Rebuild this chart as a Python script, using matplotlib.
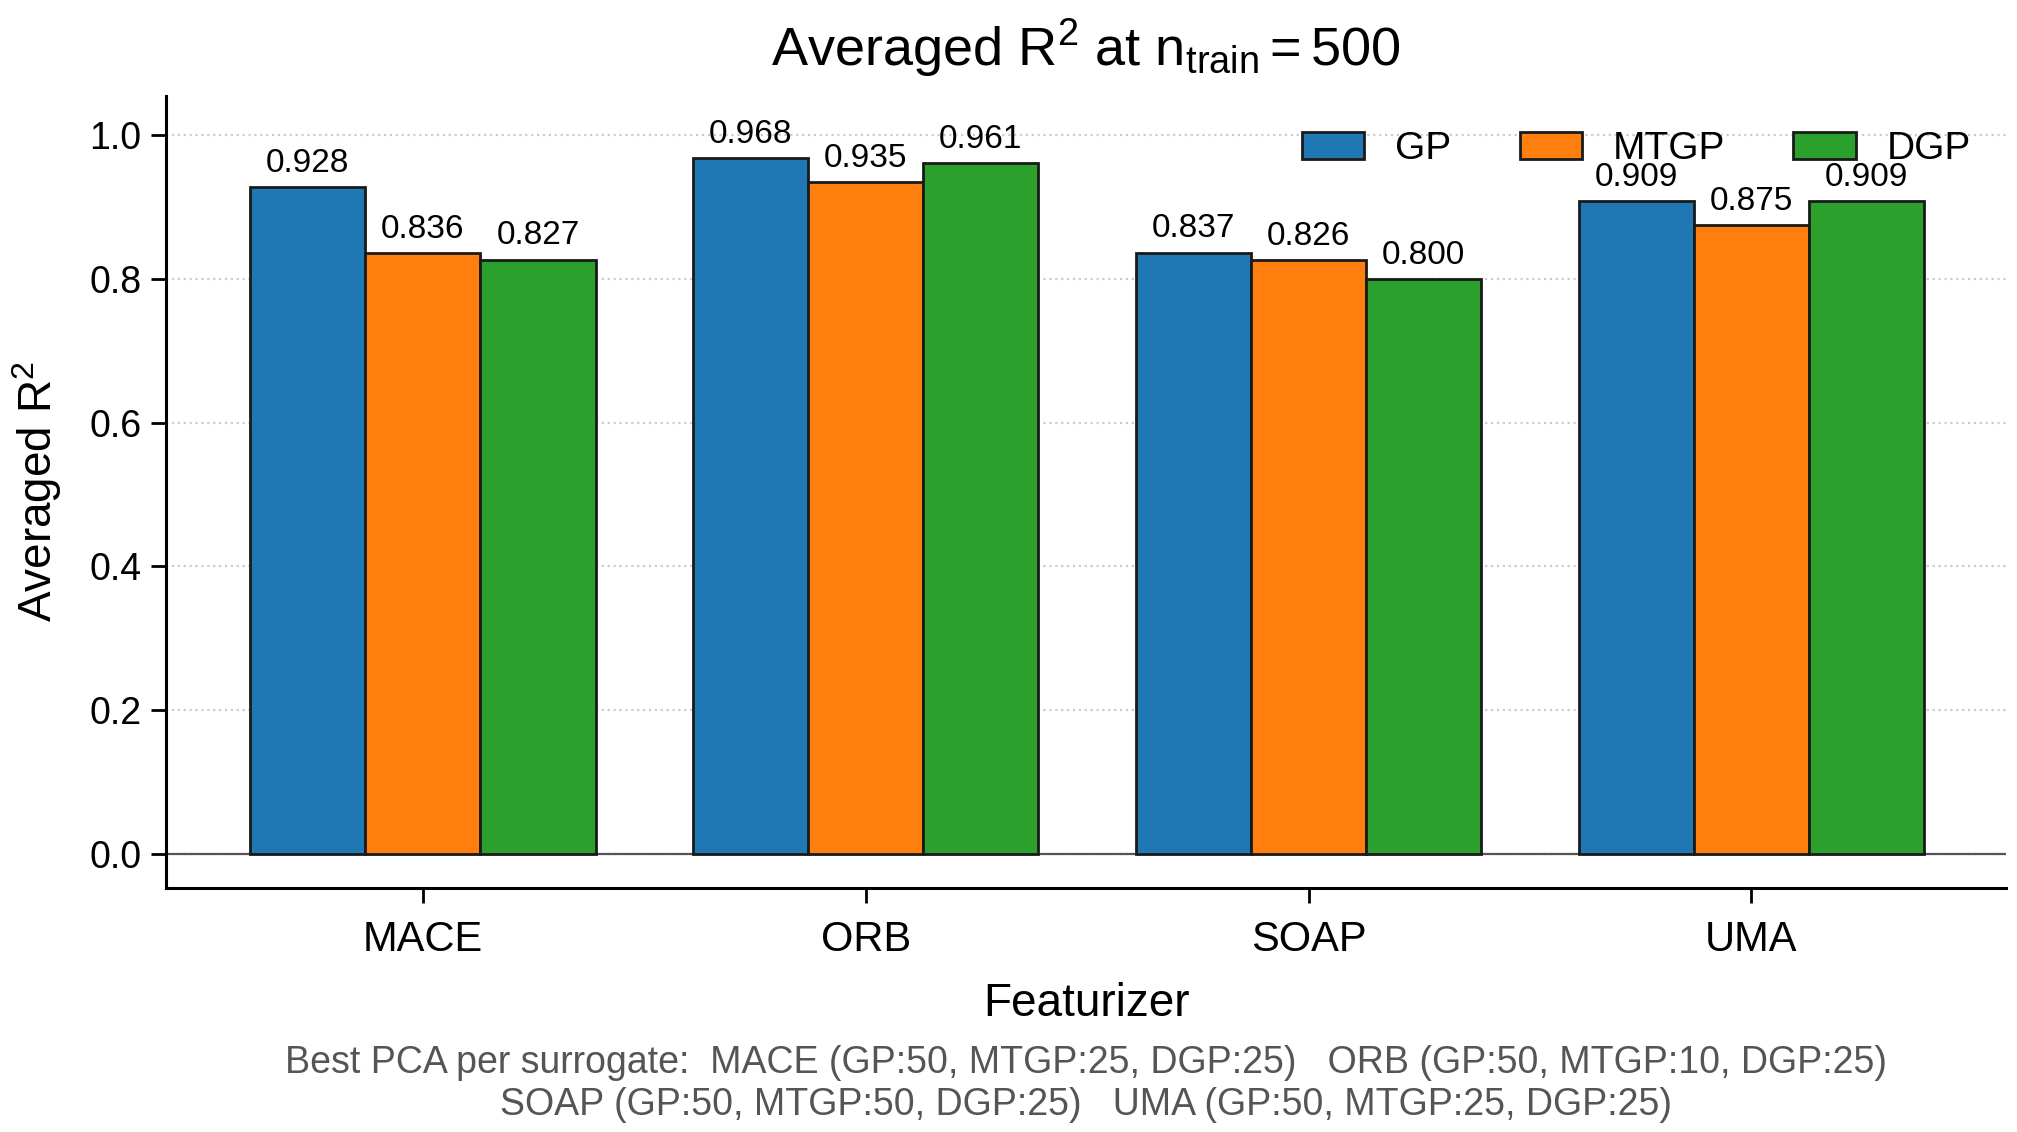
import matplotlib
matplotlib.use("Agg")
import matplotlib.pyplot as plt
import numpy as np

featurizers = ["MACE", "ORB", "SOAP", "UMA"]
surrogates = ["GP", "MTGP", "DGP"]
gp_vals = [0.928, 0.968, 0.837, 0.909]
mtgp_vals = [0.836, 0.935, 0.826, 0.875]
dgp_vals = [0.827, 0.961, 0.800, 0.909]
colors = ["#1f77b4", "#ff7f0e", "#2ca02c"]
footnote = ("Best PCA per surrogate:  MACE (GP:50, MTGP:25, DGP:25)   ORB (GP:50, MTGP:10, DGP:25)\n"
            "SOAP (GP:50, MTGP:50, DGP:25)   UMA (GP:50, MTGP:25, DGP:25)")

plt.rcParams['font.family'] = ['Liberation Sans', 'DejaVu Sans']
plt.rcParams['mathtext.fontset'] = 'custom'
plt.rcParams['mathtext.rm'] = 'Liberation Sans'
plt.rcParams['mathtext.it'] = 'Liberation Sans'
plt.rcParams['mathtext.bf'] = 'Liberation Sans:bold'

fig = plt.figure(figsize=(2017/200, 1132/200), dpi=200)
ax = fig.add_axes([166/2017, 1-888/1132, (2006-166)/2017, (888-96)/1132])

series = [gp_vals, mtgp_vals, dgp_vals]
x = np.arange(len(featurizers))
w = 0.26
for i, (name, vals) in enumerate(zip(surrogates, series)):
    pos = x + (i - 1) * w
    ax.bar(pos, vals, w, color=colors[i], edgecolor="#1a1a1a", linewidth=1.0,
           label=name, zorder=3)
    for xi, v in zip(pos, vals):
        ax.annotate(f"{v:.3f}", (xi, v), xytext=(0, 3), textcoords="offset points",
                    ha="center", va="bottom", fontsize=12, zorder=5)

ax.axhline(0, color="#555555", lw=0.8, zorder=2)
ax.set_ylim(-0.048, 1.055)
ax.set_xlim(-0.58, 3.575)
yt = [0.0, 0.2, 0.4, 0.6, 0.8, 1.0]
ax.set_yticks(yt)
ax.set_yticklabels([f"{t:.1f}" for t in yt])
ax.set_xticks(x)
ax.set_xticklabels(featurizers, fontsize=15)
ax.tick_params(axis="y", labelsize=13.5, length=5.4, width=1.0)
ax.tick_params(axis="x", length=5.4, width=1.0, pad=6)
ax.grid(axis="y", linestyle=":", color="#cccccc", linewidth=0.8, zorder=0)
ax.set_axisbelow(True)
for s in ["top", "right"]:
    ax.spines[s].set_visible(False)
for s in ["left", "bottom"]:
    ax.spines[s].set_linewidth(1.1)

ax.set_ylabel(r"Averaged R$^2$", fontsize=16.5, labelpad=9)
ax.set_xlabel("Featurizer", fontsize=16.5, labelpad=8)
ax.set_title(r"Averaged R$^2$ at n$_{\mathrm{train}}=$500", fontsize=19.5, pad=11)

ax.legend(loc="upper right", ncol=3, frameon=False, fontsize=14,
          handlelength=1.6, handletextpad=0.8, columnspacing=1.75)

fig.text(ax.get_position().x0 + ax.get_position().width/2, 1-1084/1132, footnote,
         ha="center", va="center", fontsize=13.5, color="#555555", linespacing=1.2)

fig.savefig("out.png", dpi=200)
